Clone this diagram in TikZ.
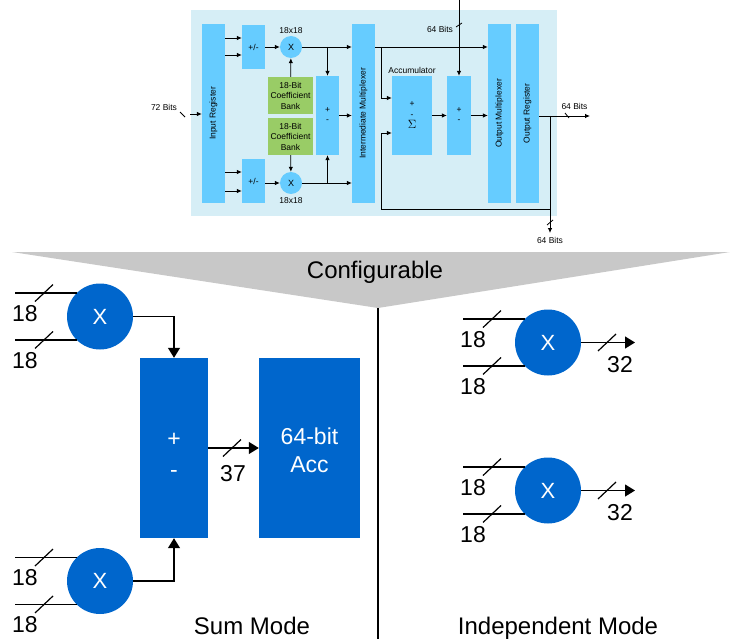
\documentclass[tikz,border=0pt]{standalone}
\usepackage{fontspec}
\setmainfont{Liberation Sans}
\usetikzlibrary{arrows.meta}

\definecolor{panelbg}{RGB}{214,238,246}
\definecolor{lightblk}{RGB}{102,204,255}
\definecolor{bankgrn}{RGB}{153,204,102}
\definecolor{darkblk}{RGB}{0,102,204}
\definecolor{funnelgry}{RGB}{200,200,200}

\begin{document}
\begin{tikzpicture}[x=1pt,y=1pt,yscale=-1,xscale=1,
  tiny/.style={font=\fontsize{8.5}{10.5}\selectfont,inner sep=0.5pt},
  big/.style={font=\fontsize{23}{27}\selectfont,inner sep=0pt},
  lblk/.style={fill=lightblk,inner sep=0pt,align=center,font=\fontsize{8.5}{10}\selectfont},
  bank/.style={fill=bankgrn,inner sep=0pt,minimum width=45pt,minimum height=37pt,align=center,font=\fontsize{8.5}{10.5}\selectfont},
  lmul/.style={circle,fill=lightblk,minimum size=22pt,inner sep=0pt,font=\fontsize{9}{10}\selectfont},
  dblk/.style={fill=darkblk,inner sep=0pt,text=white,align=center,font=\fontsize{23}{28}\selectfont},
  dmul/.style={circle,fill=darkblk,minimum size=66pt,inner sep=0pt,text=white,font=\fontsize{22}{24}\selectfont},
  sarr/.style={line width=0.8pt,-{Latex[length=5pt,width=4.5pt]}},
  sln/.style={line width=0.8pt},
  barr/.style={line width=1.2pt,-{Triangle[length=10pt,width=12pt]}},
  bln/.style={line width=1.2pt},
]
\useasboundingbox (0,0) rectangle (730,639);

%Shape: Panel
\fill[panelbg] (191,10) rectangle (557,216);

% Top blocks
\node[lblk,minimum width=23pt,minimum height=179pt] (inreg) at (213.5,113.5) {};
\node[tiny,rotate=90] (inregtxt) at (inreg) {Input Register};
\node[lblk,minimum width=23pt,minimum height=44pt] (pmA) at (253.5,47) {+/-};
\node[lblk,minimum width=23pt,minimum height=44pt] (pmB) at (253.5,181) {+/-};
\node[lmul] (mulA) at (291,47) {X};
\node[lmul] (mulB) at (291,183) {X};
\node[tiny] (dimA) at (291,31) {18x18};
\node[tiny] (dimB) at (291,201) {18x18};
\node[bank] (bankA) at (290.5,95.5) {18-Bit\\Coefficient\\Bank};
\node[bank] (bankB) at (290.5,136.5) {18-Bit\\Coefficient\\Bank};
\node[lblk,minimum width=23pt,minimum height=79pt] (addA) at (327.5,115.5) {+\\-};
\node[lblk,minimum width=23pt,minimum height=179pt] (imux) at (363.5,113.5) {};
\node[tiny,rotate=90] (imuxtxt) at (imux) {Intermediate Multiplexer};
\node[lblk,minimum width=40pt,minimum height=79pt,font=\fontsize{8.5}{11}\selectfont] (acc) at (412,115.5) {+\\-\\{\fontsize{12}{12}\selectfont$\Sigma$}};
\node[tiny] (acctxt) at (412,70) {Accumulator};
\node[lblk,minimum width=24pt,minimum height=79pt] (addB) at (459,115.5) {+\\-};
\node[lblk,minimum width=23pt,minimum height=179pt] (omux) at (499.5,113.5) {};
\node[tiny,rotate=90] (omuxtxt) at (omux) {Output Multiplexer};
\node[lblk,minimum width=23pt,minimum height=179pt] (oreg) at (527.5,113.5) {};
\node[tiny,rotate=90] (oregtxt) at (oreg) {Output Register};

\coordinate (in72) at (190,114);
\coordinate (in64) at (459,0);
\coordinate (split) at (381,47);
\coordinate (tap) at (550,116);
\coordinate (outR) at (590,116);
\coordinate (outD) at (550,233);
\coordinate (fbk) at (550,209);
\coordinate (fbl) at (381,209);

%Straight Lines: top connectors
\draw[sarr] (in72) -- (inreg.west |- in72);
\draw[sarr] (inreg.east |- 0,38) -- (pmA.west |- 0,38);
\draw[sarr] (inreg.east |- 0,55) -- (pmA.west |- 0,55);
\draw[sarr] (inreg.east |- 0,172) -- (pmB.west |- 0,172);
\draw[sarr] (inreg.east |- 0,191) -- (pmB.west |- 0,191);
\draw[sarr] (pmA) -- (mulA);
\draw[sarr] (pmB.east |- mulB) -- (mulB);
\draw[sarr] (bankA) -- (mulA);
\draw[sarr] (bankB) -- (mulB);
\draw[sarr] (mulA) -- (imux.west |- mulA);
\draw[sarr] (mulB) -- (imux.west |- mulB);
\draw[sarr] (addA.north |- mulA) -- (addA.north);
\draw[sarr] (addA.south |- mulB) -- (addA.south);
\draw[sarr] (addA.east) -- (imux.west |- addA);
\draw[sarr] (imux.east |- split) -- (omux.west |- split);
\draw[sarr] (split) |- (acc.west |- 0,98);
\draw[sarr] (acc) -- (addB);
\draw[sarr] (addB) -- (omux.west |- addB);
\draw[sarr] (in64) -- (addB.north);
\draw[sarr] (oreg.east |- tap) -- (outR);
\draw[sarr] (tap) -- (outD);
\draw[sarr] (fbk) -- (fbl) |- (acc.west |- 0,133);

% bus ticks
\draw[sln] (180,112) -- (185,117);
\draw[sln] (456,27) -- (462,23);
\draw[sln] (565,113) -- (569,118);
\draw[sln] (547,225) -- (553,220);

% Text Node
\node[tiny] (lbl72) at (164,107) {72 Bits};
\node[tiny] (lbl64a) at (440,29) {64 Bits};
\node[tiny] (lbl64b) at (574.5,106) {64 Bits};
\node[tiny] (lbl64c) at (550,240) {64 Bits};

%Shape: Funnel
\fill[funnelgry] (12,252) -- (730,252) -- (378,308) -- cycle;
\node[big,font=\fontsize{24}{28}\selectfont] (cfg) at (375,272) {Configurable};
\draw[bln] (378,308) -- (378,639);

% Sum Mode
\node[dmul] (smA) at (100,316.5) {X};
\node[dmul] (smB) at (100,581) {X};
\node[dblk,minimum width=68pt,minimum height=180pt] (sadd) at (174,448) {};
\node[dblk] (saddtxt) at (174,455) {+\\[3pt]-};
\node[dblk,minimum width=101pt,minimum height=180pt] (sacc) at (309.5,448) {};
\node[dblk] (sacctxt) at (309.5,450) {64-bit\\Acc};

% Independent Mode
\node[dmul] (imA) at (548,342.5) {X};
\node[dmul] (imB) at (548,490.5) {X};

% inputs of the multipliers
\foreach \m/\xs/\xt/\xl in {smA/15/44/25, smB/15/44/25, imA/463/492/473, imB/463/492/473}
  \foreach \a in {135,225} {
    \draw[bln] (\m.\a) -- (\m.\a -| \xs,0);
    \draw[bln] (\m.\a -| \xt,0) ++(-9,8.5) -- ++(18,-17);
    \path (\m.\a -| \xl,0) ++(0,20.5) node[big] (lbl-\m-\a) {18};
  }

\draw[barr] (smA.east) -| (sadd.north);
\draw[barr] (smB.east) -| (sadd.south);
\draw[barr] (sadd.east) -- (sacc.west);
\draw[bln] (223,456.5) -- (241,439.5);
\node[big] (lbl37) at (233,474) {37};

\foreach \m in {imA,imB} {
  \draw[barr] (\m.east) -- (\m.east -| 635,0);
  \draw[bln] (\m.east -| 607,0) ++(-9,8.5) -- ++(18,-17);
  \path (\m.east -| 620,0) ++(0,22.5) node[big] (lbl-\m-out) {32};
}

% Text Node
\node[big,font=\fontsize{24}{28}\selectfont,anchor=base] (summode) at (252,634) {Sum Mode};
\node[big,font=\fontsize{24}{28}\selectfont,anchor=base] (indmode) at (558,634) {Independent Mode};

\end{tikzpicture}
\end{document}
